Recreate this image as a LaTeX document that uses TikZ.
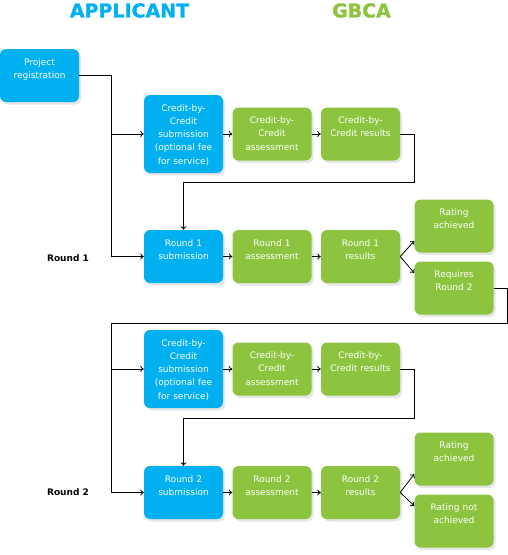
\documentclass[tikz,border=0pt]{standalone}
\usepackage{fontspec}
\setmainfont{DejaVu Sans}
\newfontfamily\headfont[FakeBold=1.2]{DejaVu Sans Bold}
\usetikzlibrary{arrows,arrows.meta,shapes,positioning,calc,shadows}
\definecolor{appblue}{HTML}{00B0F0}
\definecolor{gbcagreen}{HTML}{8CC43F}
\tikzset{
  stage/.style={rectangle, rounded corners=6pt, text=white, minimum width=79pt,
    text width=75pt, align=center, inner xsep=2pt, inner ysep=3pt,
    text height=13pt, text depth=34pt, font=\fontsize{9}{13.3}\selectfont,
    drop shadow={shadow xshift=2pt, shadow yshift=-2.5pt, opacity=0.2}},
  appbox/.style={stage, fill=appblue},
  gbcabox/.style={stage, fill=gbcagreen},
  tall/.style={text depth=59pt},
  link/.style={-{To[length=3.5pt,width=6pt]}, line width=0.8pt}
}

\begin{document}
\begin{tikzpicture}[x=1pt, y=-1pt]
    \useasboundingbox (0,0) rectangle (508,555);
    % column headings
    \node[font=\fontsize{19}{23}\selectfont\headfont, text=appblue] (apphead) at (129.5,10.5) {APPLICANT};
    \node[font=\fontsize{19}{23}\selectfont\headfont, text=gbcagreen] (gbcahead) at (361.5,10.5) {GBCA};
    \node[font=\fontsize{9}{11}\selectfont\bfseries] (lblA) at (68,258) {Round 1};
    \node[font=\fontsize{9}{11}\selectfont\bfseries] (lblB) at (68,492) {Round 2};

    % round 1
    \node[appbox] (proj) at (39.5,75.5) {Project\\registration};
    \node[appbox, tall] (cbcsubA) at (183.5,134) {Credit-by-\\Credit\\submission\\(optional fee\\for service)};
    \node[gbcabox] (cbcassA) at (272,134) {Credit-by-\\Credit\\assessment};
    \node[gbcabox] (cbcresA) at (360.5,134) {Credit-by-\\Credit results};
    \node[appbox] (rnd1sub) at (183.5,256.5) {Round 1\\submission};
    \node[gbcabox] (rnd1ass) at (272,256.5) {Round 1\\assessment};
    \node[gbcabox] (rnd1res) at (360.5,256.5) {Round 1\\results};
    \node[gbcabox] (achA) at (454,226) {Rating\\achieved};
    \node[gbcabox] (req2) at (454,288) {Requires\\Round 2};

    % round 2
    \node[appbox, tall] (cbcsubB) at (183.5,369) {Credit-by-\\Credit\\submission\\(optional fee\\for service)};
    \node[gbcabox] (cbcassB) at (272,369) {Credit-by-\\Credit\\assessment};
    \node[gbcabox] (cbcresB) at (360.5,369) {Credit-by-\\Credit results};
    \node[appbox] (rnd2sub) at (183.5,492.5) {Round 2\\submission};
    \node[gbcabox] (rnd2ass) at (272,492.5) {Round 2\\assessment};
    \node[gbcabox] (rnd2res) at (360.5,492.5) {Round 2\\results};
    \node[gbcabox] (achB) at (454,459) {Rating\\achieved};
    \node[gbcabox] (notach) at (454,521) {Rating not\\achieved};

    \coordinate (busA) at (111,75.5);
    \coordinate (turnA) at (414,182);
    \coordinate (turnR) at (507,323);
    \coordinate (busB) at (111,323);
    \coordinate (turnB) at (414,418);

    \draw[link] (proj.east) -- (busA) |- (rnd1sub.west);
    \draw[link] (busA |- cbcsubA.west) -- (cbcsubA.west);
    \draw[link] (cbcsubA) -- (cbcassA);
    \draw[link] (cbcassA) -- (cbcresA);
    \draw[link] (cbcresA.east) -| (turnA) -| (rnd1sub.north);
    \draw[link] (rnd1sub) -- (rnd1ass);
    \draw[link] (rnd1ass) -- (rnd1res);
    \draw[link] (rnd1res.east) -- ([yshift=-15pt]achA.west);
    \draw[link] (rnd1res.east) -- ([yshift=15pt]req2.west);

    \draw[link] (req2.east) -| (turnR) -- (busB) |- (rnd2sub.west);
    \draw[link] (busB |- cbcsubB.west) -- (cbcsubB.west);
    \draw[link] (cbcsubB) -- (cbcassB);
    \draw[link] (cbcassB) -- (cbcresB);
    \draw[link] (cbcresB.east) -| (turnB) -| (rnd2sub.north);
    \draw[link] (rnd2sub) -- (rnd2ass);
    \draw[link] (rnd2ass) -- (rnd2res);
    \draw[link] (rnd2res.east) -- ([yshift=-15pt]achB.west);
    \draw[link] (rnd2res.east) -- ([yshift=15pt]notach.west);
\end{tikzpicture}
\end{document}
